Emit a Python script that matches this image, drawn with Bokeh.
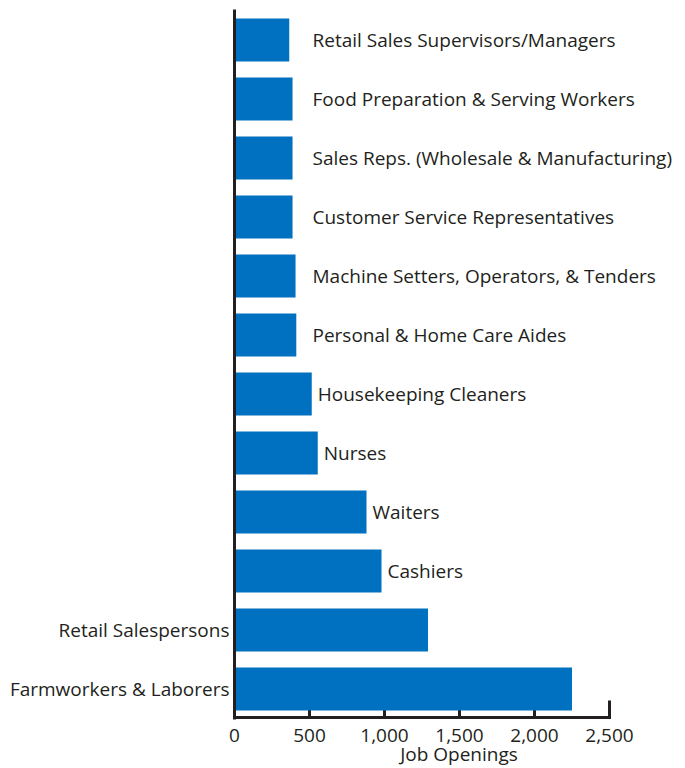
from bokeh.plotting import figure
from bokeh.models import Range1d, FixedTicker, NumeralTickFormatter, ColumnDataSource
from bokeh.core.properties import value
from bokeh.embed import file_html
from bokeh.resources import INLINE

# bottom to top
occupations = [
    "Farmworkers & Laborers",
    "Retail Salespersons",
    "Cashiers",
    "Waiters",
    "Nurses",
    "Housekeeping Cleaners",
    "Personal & Home Care Aides",
    "Machine Setters, Operators, & Tenders",
    "Customer Service Representatives",
    "Sales Reps. (Wholesale & Manufacturing)",
    "Food Preparation & Serving Workers",
    "Retail Sales Supervisors/Managers",
]
openings = [2250, 1290, 980, 880, 555, 515, 412, 407, 387, 387, 387, 365]
left_labelled = ["Farmworkers & Laborers", "Retail Salespersons"]
x_ticks = [0, 500, 1000, 1500, 2000, 2500]

FONT = "Open Sans"
FS = "19px"
TXT = "#231f20"
BLUE = "#0070c0"

PX_PER_ROW = 59.0
BAR_H = 0.73
AXIS_Y = -BAR_H / 2 - 7 / PX_PER_ROW          # x-axis line position
Y0 = AXIS_Y - 2 / PX_PER_ROW
Y1 = len(occupations) - 1 + BAR_H / 2 + 9 / PX_PER_ROW
FRAME_W = 449
X1 = FRAME_W / 0.15

idx = list(range(len(occupations)))
p = figure(
    output_backend="svg", toolbar_location=None,
    frame_width=FRAME_W, frame_height=int(round((Y1 - Y0) * PX_PER_ROW)),
    min_border_left=234, min_border_right=0, min_border_top=9, min_border_bottom=0,
    x_range=Range1d(0, X1), y_range=Range1d(Y0, Y1),
)
p.outline_line_color = None
p.grid.visible = False

# axis tick marks and line (drawn as glyphs, under the bars)
n = len(x_ticks)
p.segment(x0=x_ticks, x1=x_ticks, y0=[AXIS_Y] * n, y1=[AXIS_Y + 17 / PX_PER_ROW] * n,
          line_color=TXT, line_width=3)
p.segment(x0=[x_ticks[0]], x1=[x_ticks[-1]], y0=[AXIS_Y], y1=[AXIS_Y],
          line_color=TXT, line_width=3, line_cap="square")

p.hbar(y=idx, left=0, right=openings, height=BAR_H, color=BLUE, line_color=None)

right_src = ColumnDataSource(dict(
    x=[max(v, 480) for o, v in zip(occupations, openings) if o not in left_labelled],
    y=[i for i, o in zip(idx, occupations) if o not in left_labelled],
    t=[o for o in occupations if o not in left_labelled],
))
p.text(x="x", y="y", text="t", source=right_src, x_offset=6,
       text_baseline="middle", text_align="left",
       text_font=value(FONT), text_font_size=FS, text_color=TXT)

# x axis (labels only)
xa = p.xaxis[0]
xa.ticker = FixedTicker(ticks=x_ticks)
xa.formatter = NumeralTickFormatter(format="0,0")
xa.axis_line_color = None
xa.major_tick_line_color = None
xa.minor_tick_line_color = None
xa.major_label_standoff = 3
xa.major_label_text_font = FONT
xa.major_label_text_font_size = FS
xa.major_label_text_color = TXT
xa.axis_label = "Job Openings"
xa.axis_label_standoff = -4
xa.axis_label_text_font = FONT
xa.axis_label_text_font_size = FS
xa.axis_label_text_font_style = "normal"
xa.axis_label_text_color = TXT

# y axis
ya = p.yaxis[0]
ya.ticker = FixedTicker(ticks=[occupations.index(o) for o in left_labelled])
ya.major_label_overrides = {occupations.index(o): o for o in left_labelled}
ya.axis_line_width = 3
ya.axis_line_color = TXT
ya.major_tick_in = 0
ya.major_tick_out = 0
ya.minor_tick_line_color = None
ya.major_label_standoff = 5
ya.major_label_text_font = FONT
ya.major_label_text_font_size = FS
ya.major_label_text_color = TXT

open("out.html", "w").write(file_html(p, INLINE))
